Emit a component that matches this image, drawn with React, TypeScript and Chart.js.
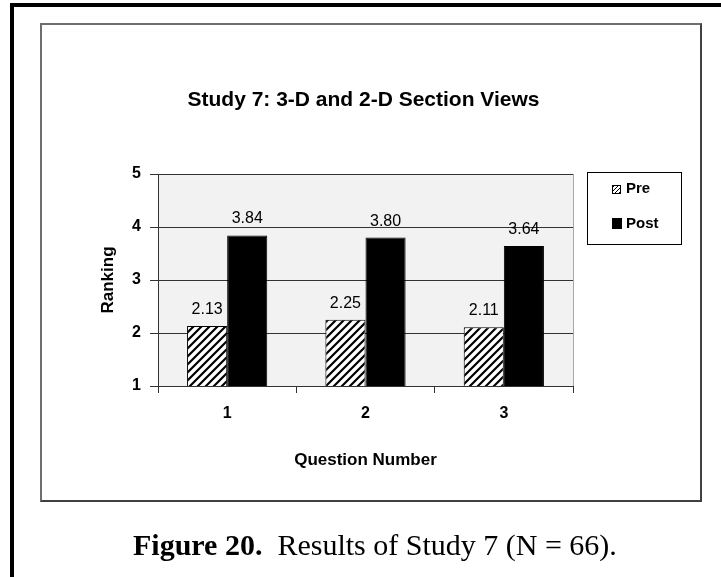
import React, { useEffect, useRef } from "react";
import { Chart, registerables } from "chart.js";

Chart.register(...registerables);

const categories = ["1", "2", "3"];
const preValues = [2.13, 2.25, 2.11];
const postValues = [3.84, 3.8, 3.64];
const seriesNames = ["Pre", "Post"];
const yMin = 1;
const yMax = 5;
const chartTitle = "Study 7: 3-D and 2-D Section Views";
const xTitle = "Question Number";
const yTitle = "Ranking";
const captionBold = "Figure 20.";
const captionRest = "\u00a0 Results of Study 7 (N = 66).";

const SANS = '"Liberation Sans", Arial, Helvetica, sans-serif';

function makeHatch(size: number, width: number): CanvasPattern {
  const c = document.createElement("canvas");
  c.width = size;
  c.height = size;
  const g = c.getContext("2d")!;
  g.fillStyle = "#ffffff";
  g.fillRect(0, 0, size, size);
  g.strokeStyle = "#000000";
  g.lineWidth = width;
  g.beginPath();
  g.moveTo(-2, size + 2);
  g.lineTo(size + 2, -2);
  g.moveTo(-2, 2);
  g.lineTo(2, -2);
  g.moveTo(size - 2, size + 2);
  g.lineTo(size + 2, size - 2);
  g.stroke();
  return g.createPattern(c, "repeat")!;
}

export default function App() {
  const ref = useRef<HTMLCanvasElement | null>(null);

  useEffect(() => {
    const canvas = ref.current;
    if (!canvas) return;
    const hatch = makeHatch(8, 2.2);
    const smallHatch = makeHatch(4, 1);

    const bgPlugin = {
      id: "plotBg",
      beforeDraw(chart: any) {
        const { ctx, chartArea: a } = chart;
        ctx.save();
        ctx.fillStyle = "#f2f2f2";
        ctx.fillRect(a.left, a.top, a.right - a.left, a.bottom - a.top);
        ctx.strokeStyle = "#a8a8a8";
        ctx.lineWidth = 1;
        ctx.beginPath();
        ctx.moveTo(a.right + 0.5, a.top);
        ctx.lineTo(a.right + 0.5, a.bottom);
        ctx.stroke();
        ctx.restore();
      },
    };

    const textPlugin = {
      id: "texts",
      afterDraw(chart: any) {
        const { ctx, chartArea: a } = chart;
        ctx.save();
        // data labels
        ctx.fillStyle = "#000";
        ctx.font = `16px ${SANS}`;
        ctx.textAlign = "center";
        ctx.textBaseline = "alphabetic";
        chart.data.datasets.forEach((ds: any, i: number) => {
          const meta = chart.getDatasetMeta(i);
          meta.data.forEach((el: any, j: number) => {
            ctx.fillText(Number(ds.data[j]).toFixed(2), el.x, el.y - 12);
          });
        });
        // title
        ctx.font = `bold 21px ${SANS}`;
        ctx.textBaseline = "middle";
        ctx.fillText(chartTitle, (a.left + a.right) / 2 - 2, a.top - 74);
        // x title
        ctx.font = `bold 17px ${SANS}`;
        ctx.fillText(xTitle, (a.left + a.right) / 2, a.bottom + 74);
        // y title
        ctx.save();
        ctx.translate(a.left - 50, (a.top + a.bottom) / 2);
        ctx.rotate(-Math.PI / 2);
        ctx.fillText(yTitle, 0, 0);
        ctx.restore();
        // legend
        const lx = a.right + 14;
        const ly = a.top - 2;
        ctx.fillStyle = "#fff";
        ctx.fillRect(lx, ly, 94, 72);
        ctx.strokeStyle = "#000";
        ctx.lineWidth = 1;
        ctx.strokeRect(lx + 0.5, ly + 0.5, 94, 72);
        ctx.font = `bold 15px ${SANS}`;
        ctx.textAlign = "left";
        ctx.textBaseline = "middle";
        // Pre marker
        ctx.fillStyle = smallHatch;
        ctx.fillRect(lx + 25, ly + 13, 9, 9);
        ctx.strokeRect(lx + 25.5, ly + 13.5, 8, 8);
        ctx.fillStyle = "#000";
        ctx.fillText(seriesNames[0], lx + 39, ly + 17);
        // Post marker
        ctx.fillRect(lx + 25, ly + 46, 10, 11);
        ctx.fillText(seriesNames[1], lx + 39, ly + 52);
        ctx.restore();
      },
    };

    const chart = new Chart(canvas, {
      type: "bar",
      data: {
        labels: categories,
        datasets: [
          {
            label: seriesNames[0],
            data: preValues,
            backgroundColor: hatch,
            borderColor: "#000",
            borderWidth: 1,
            borderSkipped: false,
            categoryPercentage: 0.58,
            barPercentage: 1.0,
          },
          {
            label: seriesNames[1],
            data: postValues,
            backgroundColor: "#000",
            borderColor: "#000",
            borderWidth: 1,
            borderSkipped: false,
            categoryPercentage: 0.58,
            barPercentage: 1.0,
          },
        ],
      },
      options: {
        animation: false,
        responsive: false,
        maintainAspectRatio: false,
        layout: { padding: { left: 0, right: 148, top: 174, bottom: 131 } },
        plugins: {
          legend: { display: false },
          title: { display: false },
          tooltip: { enabled: false },
        },
        scales: {
          x: {
            offset: true,
            grid: {
              offset: true,
              drawOnChartArea: false,
              drawTicks: true,
              tickLength: 7,
              color: "#333",
            },
            border: { display: true, color: "#333", width: 1 },
            ticks: {
              color: "#000",
              padding: 11,
              font: { family: SANS, size: 16, weight: "bold" },
            },
            afterFit(scale: any) {
              scale.height = 60;
            },
          },
          y: {
            min: yMin,
            max: yMax,
            ticks: {
              stepSize: 1,
              color: "#000",
              padding: 9,
              font: { family: SANS, size: 16, weight: "bold" },
            },
            grid: {
              drawOnChartArea: true,
              drawTicks: true,
              tickLength: 8,
              color: "#333",
            },
            border: { display: true, color: "#333", width: 1 },
            afterFit(scale: any) {
              scale.width = 158;
            },
          },
        },
      },
      plugins: [bgPlugin, textPlugin],
    });
    return () => chart.destroy();
  }, []);

  return (
    <div
      style={{
        position: "absolute",
        left: 0,
        top: 0,
        width: 721,
        height: 577,
        background: "#fff",
        overflow: "hidden",
      }}
    >
      <div style={{ position: "absolute", left: 10, top: 3, width: 711, height: 4, background: "#000" }} />
      <div style={{ position: "absolute", left: 10, top: 3, width: 4, height: 574, background: "#000" }} />
      <div
        style={{
          position: "absolute",
          left: 40,
          top: 23,
          width: 662,
          height: 479,
          boxSizing: "border-box",
          borderTop: "2px solid #6e6e6e",
          borderLeft: "2px solid #6e6e6e",
          borderRight: "2px solid #404040",
          borderBottom: "2px solid #404040",
        }}
      />
      <canvas
        ref={ref}
        width={721}
        height={577}
        style={{ position: "absolute", left: 0, top: 0, width: 721, height: 577 }}
      />
      <div
        style={{
          position: "absolute",
          left: 133,
          top: 530,
          whiteSpace: "pre",
          fontFamily: '"Liberation Serif", "Times New Roman", serif',
          fontSize: 30,
          lineHeight: "30px",
          color: "#000",
        }}
      >
        <b>{captionBold}</b>
        {captionRest}
      </div>
    </div>
  );
}
